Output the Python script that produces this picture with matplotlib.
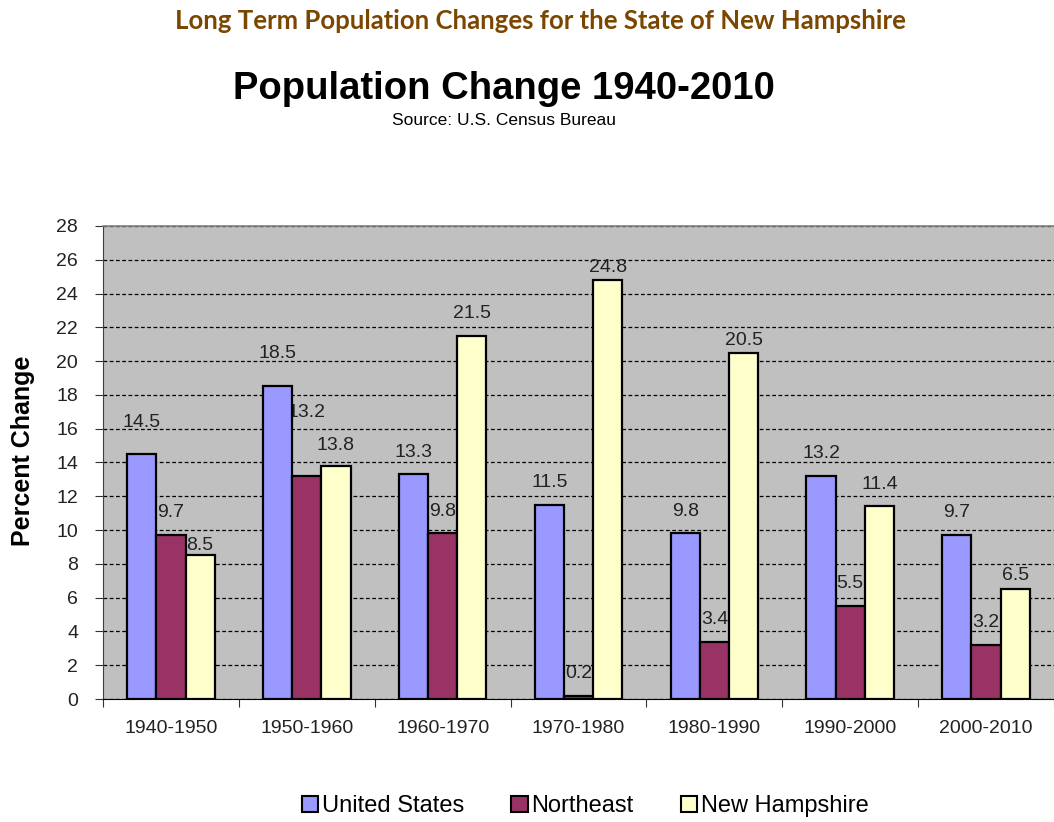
import matplotlib.pyplot as plt
import numpy as np
from matplotlib.patches import Patch

plt.rcParams['font.family'] = ['Liberation Sans', 'DejaVu Sans']

decades = ['1940-1950', '1950-1960', '1960-1970', '1970-1980',
           '1980-1990', '1990-2000', '2000-2010']
us = [14.5, 18.5, 13.3, 11.5, 9.8, 13.2, 9.7]
northeast = [9.7, 13.2, 9.8, 0.2, 3.4, 5.5, 3.2]
nh = [8.5, 13.8, 21.5, 24.8, 20.5, 11.4, 6.5]

series = [('United States', us, '#9999FF'),
          ('Northeast', northeast, '#993366'),
          ('New Hampshire', nh, '#FFFFCC')]

# label lift above bar top (points); a few sit differently in the original
lift = {(0, 0): 23, (0, 1): 16, (0, 2): 7,
        (1, 0): 24, (1, 1): 46, (1, 2): 15,
        (3, 2): 9, (4, 2): 9, (6, 2): 10}

fig = plt.figure(figsize=(10.54, 8.22), dpi=100)
ax = fig.add_axes([103 / 1054, 123 / 822, 1 - 103 / 1054, 473 / 822])
ax.set_facecolor('#C0C0C0')

x = np.arange(len(decades))
w = 0.215
for i, (name, vals, col) in enumerate(series):
    pos = x + (i - 1) * w
    ax.bar(pos, vals, w, color=col, edgecolor='black', linewidth=1.6, zorder=3)
    for j, v in enumerate(vals):
        ax.annotate(f'{v:.1f}', (pos[j], v), xytext=(0, lift.get((j, i), 16)),
                    textcoords='offset points', ha='center', va='center',
                    fontsize=14, color='#222222', zorder=2)

ax.set_ylim(0, 28)
ax.set_xlim(-0.5, 6.43)
ax.set_yticks(np.arange(0, 29, 2))
ax.yaxis.grid(True, linestyle=(0, (3, 2)), color='black', linewidth=0.9, zorder=1)
ax.set_axisbelow(True)

ax.set_xticks(np.arange(-0.5, 7, 1))
ax.set_xticklabels([])
ax.set_xticks(x, minor=True)
ax.set_xticklabels(decades, minor=True, fontsize=14, color='#222222')
ax.tick_params(axis='x', which='minor', length=0, pad=15)
ax.tick_params(axis='x', which='major', direction='out', length=6, color='#333333')
ax.tick_params(axis='y', direction='out', length=6, labelsize=14,
               labelcolor='#222222', color='#333333', pad=12)

ax.spines['right'].set_visible(False)
ax.spines['top'].set_color('#808080')
ax.spines['left'].set_color('#404040')
ax.spines['bottom'].set_color('black')
ax.spines['top'].set_linewidth(1.2)

ax.set_ylabel('Percent Change', fontsize=18, fontweight='bold')
ax.yaxis.set_label_coords(-0.071, 0.525)

fig.text(0.513, 0.975, 'Long Term Population Changes for the State of New Hampshire',
         ha='center', va='center', fontsize=18.5, fontweight='bold',
         color='#7A4600', family=['Lato', 'DejaVu Sans'])
fig.text(0.478, 0.892, 'Population Change 1940-2010', ha='center', va='center',
         fontsize=27.5, fontweight='bold')
fig.text(0.478, 0.853, 'Source: U.S. Census Bureau', ha='center', va='center',
         fontsize=12.5)

handles = [Patch(facecolor=c, edgecolor='black', linewidth=1.5, label=n)
           for n, v, c in series]
fig.legend(handles=handles, loc='center', bbox_to_anchor=(0.555, 0.019),
           ncol=3, frameon=False, fontsize=17, handlelength=0.7,
           handleheight=0.7, handletextpad=0.15, columnspacing=2.0)

fig.savefig('out.png', dpi=100)
